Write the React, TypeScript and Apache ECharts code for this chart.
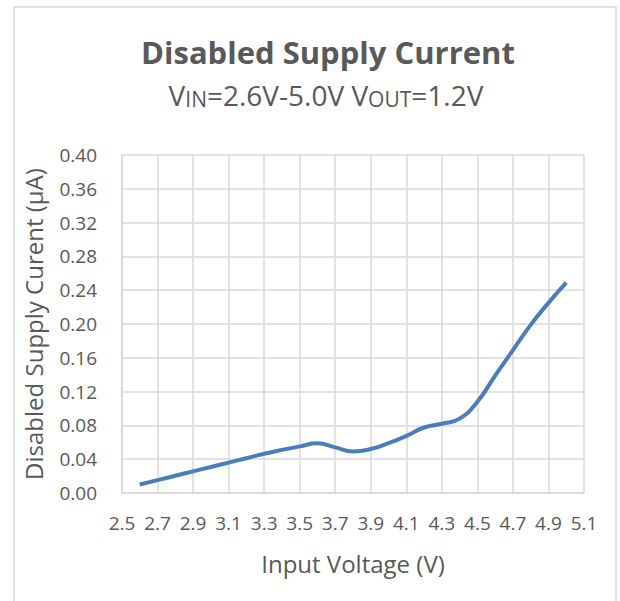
import { useEffect, useRef } from "react";
import * as echarts from "echarts";

// ---- data ----
const X_AXIS_MIN = 2.5;
const X_AXIS_MAX = 5.1;
const X_AXIS_STEP = 0.2;
const Y_AXIS_MIN = 0;
const Y_AXIS_MAX = 0.4;
const Y_AXIS_STEP = 0.04;

const inputVoltage = [
  2.6, 2.7, 2.8, 2.9, 3.0, 3.1, 3.2, 3.3, 3.4, 3.5, 3.6, 3.7, 3.8,
  3.9, 4.0, 4.1, 4.2, 4.3, 4.4, 4.5, 4.6, 4.7, 4.8, 4.9, 5.0,
];
const supplyCurrent = [
  0.0100, 0.0152, 0.0204, 0.0256, 0.0308, 0.0360, 0.0412, 0.0464, 0.0510, 0.0552, 0.0588, 0.0540, 0.0492,
  0.0520, 0.0590, 0.0675, 0.0775, 0.0820, 0.0880, 0.1080, 0.1390, 0.1690, 0.1990, 0.2250, 0.2490,
];

const TITLE = "Disabled Supply Current";
const SUBTITLE_PARTS: [string, string][] = [
  ["b", "V"], ["s", "IN"], ["b", "=2.6V-5.0V V"], ["s", "OUT"], ["b", "=1.2V"],
];
const X_NAME = "Input Voltage (V)";
const Y_NAME = "Disabled Supply Curent (µA)";

export default function App() {
  const ref = useRef<HTMLDivElement>(null);
  useEffect(() => {
    if (!ref.current) return;
    const chart = echarts.init(ref.current, null, { renderer: "svg" });
    const font = '"Open Sans", sans-serif';
    const grey = "#595959";
    const gridColor = "#d9d9d9";
    const points = inputVoltage.map((v, i) => [v - X_AXIS_MIN, supplyCurrent[i]]);
    chart.setOption({
      animation: false,
      backgroundColor: "#ffffff",
      textStyle: { fontFamily: font },
      graphic: [
        {
          type: "rect",
          silent: true,
          shape: { x: 14, y: 7, width: 602, height: 620 },
          style: { fill: "none", stroke: gridColor, lineWidth: 1.5 },
        },
        {
          type: "text",
          x: 328,
          y: 52,
          style: {
            text: TITLE,
            fontFamily: font,
            fontSize: 31,
            fontWeight: "bold",
            fill: grey,
            textAlign: "center",
            textVerticalAlign: "middle",
          },
        },
        {
          type: "text",
          x: 326,
          y: 95,
          style: {
            text: SUBTITLE_PARTS.map(([k, t]) => `{${k}|${t}}`).join(""),
            fill: grey,
            fontFamily: font,
            fontSize: 28,
            textAlign: "center",
            textVerticalAlign: "middle",
            rich: {
              b: { fontSize: 28, fontFamily: font, fill: grey, verticalAlign: "bottom" },
              s: { fontSize: 21, fontFamily: font, fill: grey, verticalAlign: "bottom" },
            },
          },
        },
      ],
      grid: { left: 122, right: 36, top: 155, bottom: 108, containLabel: false },
      xAxis: {
        type: "value",
        min: 0,
        max: X_AXIS_MAX - X_AXIS_MIN,
        interval: X_AXIS_STEP,
        name: X_NAME,
        nameLocation: "middle",
        nameGap: 58,
        nameTextStyle: { fontSize: 24, color: grey, fontFamily: font },
        axisLine: { show: true, lineStyle: { color: gridColor, width: 1.5 } },
        axisTick: { show: false },
        axisLabel: {
          margin: 20,
          fontSize: 19,
          color: grey,
          fontFamily: font,
          formatter: (v: number) => (v + X_AXIS_MIN).toFixed(1),
        },
        splitLine: { show: true, lineStyle: { color: gridColor, width: 1.5 } },
      },
      yAxis: {
        type: "value",
        min: Y_AXIS_MIN,
        max: Y_AXIS_MAX,
        interval: Y_AXIS_STEP,
        name: Y_NAME,
        nameLocation: "middle",
        nameGap: 77,
        nameTextStyle: { fontSize: 24, color: grey, fontFamily: font },
        axisLine: { show: true, lineStyle: { color: gridColor, width: 1.5 } },
        axisTick: { show: false },
        axisLabel: {
          margin: 25,
          fontSize: 19,
          color: grey,
          fontFamily: font,
          formatter: (v: number) => v.toFixed(2),
        },
        splitLine: { show: true, lineStyle: { color: gridColor, width: 1.5 } },
      },
      series: [
        {
          type: "line",
          data: points,
          smooth: 0.5,
          showSymbol: false,
          symbol: "none",
          lineStyle: { color: "#4a7ebb", width: 4 },
        },
      ],
    });
    return () => chart.dispose();
  }, []);
  return (
    <div
      ref={ref}
      style={{ position: "absolute", left: 0, top: 0, width: 620, height: 601 }}
    />
  );
}
